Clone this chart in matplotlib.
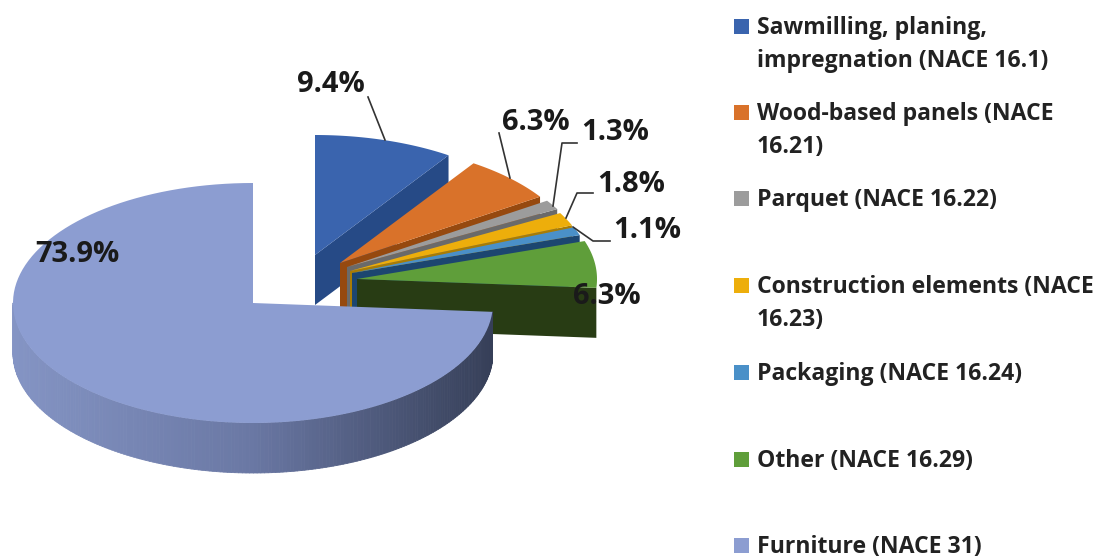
import numpy as np
import matplotlib
matplotlib.use('Agg')
import matplotlib.pyplot as plt
from matplotlib.patches import Polygon, Rectangle
from matplotlib.collections import PolyCollection
from matplotlib.colors import LinearSegmentedColormap

categories = ['Sawmilling, planing,\nimpregnation (NACE 16.1)', 'Wood-based panels (NACE\n16.21)',
              'Parquet (NACE 16.22)', 'Construction elements (NACE\n16.23)', 'Packaging (NACE 16.24)',
              'Other (NACE 16.29)', 'Furniture (NACE 31)']
values = [9.4, 6.3, 1.3, 1.8, 1.1, 6.3, 73.9]
value_labels = ['9.4%', '6.3%', '1.3%', '1.8%', '1.1%', '6.3%', '73.9%']

# look of the pie, in pixels of the 1099x557 picture
colors = ['#3A64AE', '#D9722A', '#9C9C9C', '#EDAE0B', '#4A90C8', '#5F9E3A', '#8C9DD1']
wall_colors = ['#264A86', '#96490F', '#6A6A6A', '#A87C05', '#1C4670', '#283C14', '#5A6690']
centres = [(315, 255), (340, 263), (347, 267), (350, 271), (352, 273), (357, 279), (253, 303)]
rx, ry, depth = 240, 120, 50
legend_y = [26, 112, 198, 285, 372, 459, 545]
label_pos = [(331, 85), (536, 123), (615, 133), (631, 184), (647, 230), (607, 297), (77, 255)]
leaders = [[(368, 97), (385, 140)],
           [(499, 133), (510, 178)],
           [(577, 143), (562, 143), (553, 206)],
           [(593, 193), (577, 193), (566, 218)],
           [(610, 241), (593, 241), (573, 227)]]

plt.rcParams['font.family'] = ['Open Sans', 'DejaVu Sans']
fig = plt.figure(figsize=(10.99, 5.57), dpi=100)
ax = fig.add_axes([0, 0, 1, 1])
ax.set_xlim(0, 1099)
ax.set_ylim(557, 0)
ax.axis('off')


def rim(c, a0, a1, n=120):
    t = np.radians(np.linspace(a0, a1, n))
    return np.column_stack([c[0] + rx * np.sin(t), c[1] - ry * np.cos(t)])


edges = np.cumsum([0] + values) / sum(values) * 360
for i in range(len(values)):
    c = centres[i]
    a0, a1 = edges[i], edges[i + 1]
    # cut face at the end of the slice
    end = rim(c, a1, a1, 1)[0]
    if a1 < 180:
        face = [c, end, (end[0], end[1] + depth), (c[0], c[1] + depth)]
        ax.add_patch(Polygon(face, closed=True, fc=wall_colors[i], ec='none', zorder=i + 1))
    # outer wall of the furniture slice, shaded from left to right
    if a1 > 180:
        arc = rim(c, a0, 270, 200)
        strips = [[arc[j], arc[j + 1], arc[j + 1] + (0, depth), arc[j] + (0, depth)]
                  for j in range(len(arc) - 1)]
        cmap = LinearSegmentedColormap.from_list('wall', ['#8494C4', '#6A78A4', '#363F58'])
        shade = cmap((arc[:-1, 0] - (c[0] - rx)) / (2 * rx))
        ax.add_collection(PolyCollection(strips, facecolors=shade, edgecolors=shade,
                                         linewidths=0.6, zorder=i + 1))
    top = np.vstack([c, rim(c, a0, a1)])
    ax.add_patch(Polygon(top, closed=True, fc=colors[i], ec='none', zorder=i + 1.5))

for pts in leaders:
    xs, ys = zip(*pts)
    ax.plot(xs, ys, color='#333333', lw=1.2, zorder=20)

for txt, pos in zip(value_labels, label_pos):
    ax.text(pos[0], pos[1], txt, fontsize=21, fontweight='bold', color='#1a1a1a',
            ha='center', va='center', zorder=25)

for name, y, col in zip(categories, legend_y, colors):
    ax.add_patch(Rectangle((734, y - 7.5), 15, 15, fc=col, ec='none'))
    ax.text(757, y + 2, name.split('\n')[0], fontsize=16.6, fontweight='bold',
            color='#222222', va='center', ha='left')
    if '\n' in name:
        ax.text(757, y + 35, name.split('\n')[1], fontsize=16.6, fontweight='bold',
                color='#222222', va='center', ha='left')

fig.savefig('out.png', dpi=100)
